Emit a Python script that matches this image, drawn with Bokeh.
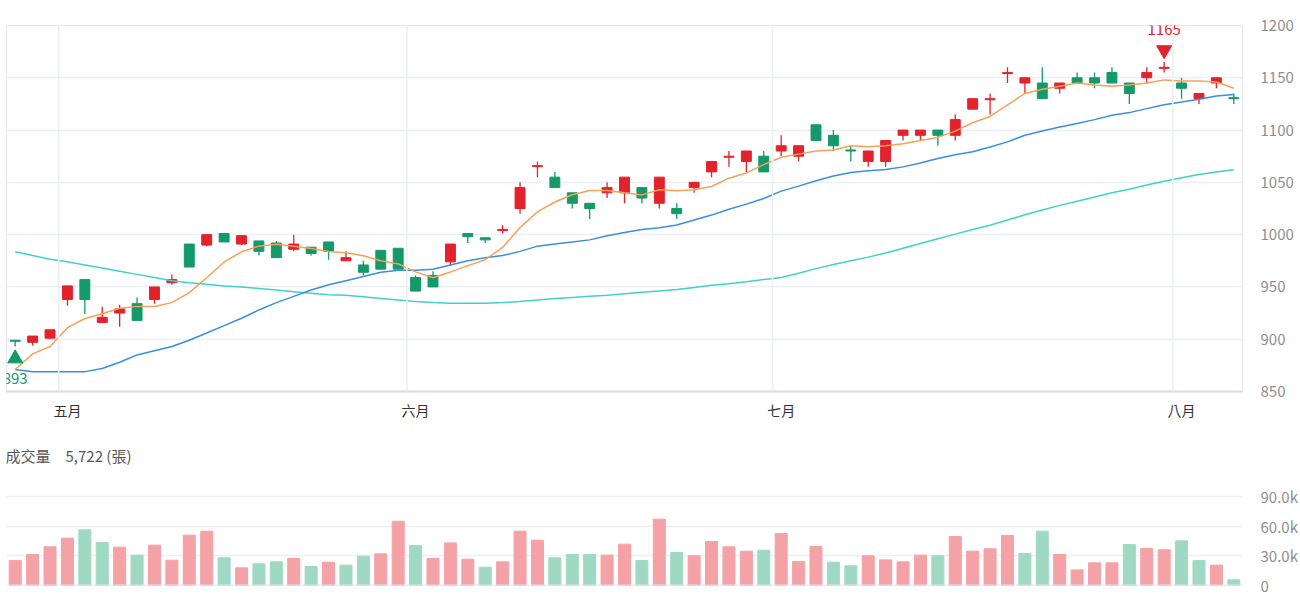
from bokeh.plotting import figure
from bokeh.layouts import column
from bokeh.models import Range1d, FixedTicker, ColumnDataSource, Span, Label
from bokeh.embed import file_html
from bokeh.resources import INLINE

# Trading days, 2025-04-28 .. 2025-08-06
dates = [
    "2025-04-28", "2025-04-29", "2025-04-30",
    "2025-05-02", "2025-05-05", "2025-05-06", "2025-05-07", "2025-05-08", "2025-05-09",
    "2025-05-12", "2025-05-13", "2025-05-14", "2025-05-15", "2025-05-16",
    "2025-05-19", "2025-05-20", "2025-05-21", "2025-05-22", "2025-05-23",
    "2025-05-26", "2025-05-27", "2025-05-28", "2025-05-29",
    "2025-06-02", "2025-06-03", "2025-06-04", "2025-06-05", "2025-06-06",
    "2025-06-09", "2025-06-10", "2025-06-11", "2025-06-12", "2025-06-13",
    "2025-06-16", "2025-06-17", "2025-06-18", "2025-06-19", "2025-06-20",
    "2025-06-23", "2025-06-24", "2025-06-25", "2025-06-26", "2025-06-27",
    "2025-06-30",
    "2025-07-01", "2025-07-02", "2025-07-03", "2025-07-04",
    "2025-07-07", "2025-07-08", "2025-07-09", "2025-07-10", "2025-07-11",
    "2025-07-14", "2025-07-15", "2025-07-16", "2025-07-17", "2025-07-18",
    "2025-07-21", "2025-07-22", "2025-07-23", "2025-07-24", "2025-07-25",
    "2025-07-28", "2025-07-29", "2025-07-30", "2025-07-31",
    "2025-08-01", "2025-08-04", "2025-08-05", "2025-08-06",
]

opens = [899, 897, 901, 938, 957, 916, 925, 934, 938, 954,
         991, 990, 1001, 991, 994, 992, 986, 988, 993, 975,
         971, 985, 987, 959, 961, 974, 1001, 997, 1004, 1025,
         1065, 1055, 1040, 1030, 1040, 1040, 1045, 1030, 1025, 1045,
         1060, 1074, 1070, 1075, 1080, 1075, 1105, 1095, 1081, 1070,
         1070, 1095, 1095, 1100, 1095, 1120, 1129, 1154, 1145, 1145,
         1140, 1150, 1150, 1155, 1145, 1150, 1159, 1145, 1130, 1145,
         1131]
highs = [899, 903, 909, 951, 957, 931, 933, 940, 950, 962,
         991, 1000, 1001, 999, 994, 994, 1000, 988, 993, 984,
         975, 985, 987, 961, 965, 991, 1001, 997, 1009, 1050,
         1070, 1060, 1040, 1030, 1050, 1055, 1045, 1055, 1030, 1050,
         1070, 1080, 1080, 1080, 1095, 1085, 1105, 1100, 1085, 1080,
         1090, 1100, 1100, 1100, 1115, 1130, 1135, 1160, 1150, 1160,
         1145, 1155, 1155, 1160, 1145, 1160, 1165, 1150, 1135, 1150,
         1135]
lows = [893, 894, 900, 932, 924, 916, 912, 918, 934, 952,
        969, 989, 993, 990, 980, 978, 984, 980, 976, 975,
        961, 967, 967, 946, 950, 970, 992, 992, 1001, 1020,
        1055, 1045, 1025, 1015, 1035, 1030, 1030, 1025, 1015, 1040,
        1055, 1065, 1060, 1060, 1075, 1070, 1090, 1080, 1070, 1065,
        1065, 1090, 1090, 1085, 1090, 1120, 1115, 1145, 1135, 1130,
        1135, 1145, 1140, 1145, 1125, 1145, 1155, 1130, 1125, 1140,
        1125]
closes = [898, 903, 909, 951, 938, 921, 929, 918, 950, 957,
          969, 1000, 993, 999, 984, 978, 991, 982, 984, 978,
          964, 967, 967, 946, 950, 991, 998, 995, 1005, 1045,
          1066, 1045, 1030, 1025, 1045, 1055, 1035, 1055, 1020, 1050,
          1070, 1075, 1080, 1060, 1085, 1085, 1090, 1085, 1080, 1080,
          1090, 1100, 1100, 1095, 1110, 1130, 1130, 1155, 1150, 1130,
          1145, 1145, 1145, 1145, 1135, 1155, 1160, 1140, 1135, 1150,
          1130]
volumes = [25300, 31300, 39100, 47900, 56300, 43500, 38800, 30700, 40800, 25600,
           50900, 54900, 28000, 17900, 21900, 23900, 27300, 19200, 23600, 20600,
           29700, 32000, 65000, 40400, 27300, 43100, 26600, 18500, 23900, 54900,
           45800, 28000, 31300, 31300, 30700, 41800, 25300, 67100, 33400, 30000,
           44500, 39100, 34700, 35700, 52600, 24300, 39400, 23600, 19900, 30000,
           25900, 23900, 30700, 30000, 49500, 34700, 37100, 50600, 32400, 54900,
           31300, 15800, 22900, 22900, 41500, 37400, 36100, 45200, 25300, 20600,
           5722]

# moving averages (5, 20 and 60 day)
ma5 = [871, 886, 893, 911, 919.8, 924.4, 929.6, 931.4, 931.2, 935.0,
       944.6, 958.8, 973.8, 983.6, 989.0, 990.8, 989.0, 986.8, 983.8, 982.6,
       979.8, 975.0, 972.0, 964.4, 958.8, 964.2, 970.4, 976.0, 987.8, 1006.8,
       1021.8, 1031.2, 1038.2, 1042.2, 1042.2, 1040.0, 1038.0, 1043.0, 1042.0, 1043.0,
       1046.0, 1054.0, 1059.0, 1067.0, 1074.0, 1077.0, 1080.0, 1081.0, 1085.0, 1084.0,
       1085.0, 1087.0, 1090.0, 1093.0, 1099.0, 1107.0, 1113.0, 1124.0, 1135.0, 1139.0,
       1142.0, 1145.0, 1143.0, 1142.0, 1143.0, 1145.0, 1148.0, 1147.0, 1147.0, 1146.0,
       1140.0]
ma20 = [871, 869, 869, 869, 869, 872, 878, 885, 889, 893,
        899, 906, 913, 920, 928, 935, 941, 947, 952, 956,
        960, 964, 966, 966, 967, 971, 975, 978, 980, 984,
        989, 991, 993, 995, 999, 1002, 1005, 1006.6, 1009.2, 1014,
        1018.7, 1024.2, 1029.2, 1034.6, 1041.6, 1046.4, 1051.5, 1056, 1059.5, 1061,
        1062.4, 1064.8, 1068.6, 1072.8, 1076.5, 1079.2, 1083.9, 1088.7, 1095.1, 1099.2,
        1103, 1106.2, 1110, 1114.1, 1116.7, 1120.5, 1124.3, 1126.8, 1129.4, 1132.6,
        1133.9]
ma60 = [983.7, 980, 976.5, 974, 971, 968, 965, 962, 959, 956,
        954, 952.5, 951, 950, 948.5, 947, 945.5, 944, 942.5, 942,
        940.5, 939, 937.5, 936, 935, 934.5, 934.5, 934.5, 935, 936,
        937.5, 939, 940, 941, 942, 943.5, 945, 946, 947.5, 949.5,
        951.5, 953, 955, 957, 959, 963, 967.5, 971.5, 975, 978.5,
        982.5, 987, 991.5, 996, 1000.5, 1005, 1009, 1014, 1019, 1023.5,
        1028, 1032, 1036, 1040, 1043.5, 1047.5, 1051, 1054.5, 1057.5, 1060,
        1062]

month_names = {5: "五月", 6: "六月", 7: "七月", 8: "八月"}
price_ticks = [850, 900, 950, 1000, 1050, 1100, 1150, 1200]
volume_ticks = [0, 30000, 60000, 90000]
volume_tick_labels = {0: "0", 30000: "30.0k", 60000: "60.0k", 90000: "90.0k"}

UP, DOWN = "#e3222c", "#14996a"
UP_VOL, DOWN_VOL = "#f4a2a6", "#9fd9c3"
GRID = "#eceff6"
FONT = "Noto Sans CJK TC"

n = len(dates)
xs = list(range(n))

candle_colors = []
vol_colors = []
for i in range(n):
    if closes[i] > opens[i]:
        candle_colors.append(UP)
    elif closes[i] < opens[i]:
        candle_colors.append(DOWN)
    else:
        candle_colors.append(UP if i == 0 or closes[i] >= closes[i - 1] else DOWN)
    vol_colors.append(UP_VOL if i == 0 or closes[i] >= closes[i - 1] else DOWN_VOL)

src = ColumnDataSource(dict(
    x=xs, open=opens, high=highs, low=lows, close=closes,
    top=[max(o, c) for o, c in zip(opens, closes)],
    bottom=[min(o, c) for o, c in zip(opens, closes)],
    color=candle_colors, volume=volumes, vcolor=vol_colors,
    ma5=ma5, ma20=ma20, ma60=ma60,
))

# month boundaries: first trading day of each month
month_starts = [i for i in range(1, n) if dates[i][5:7] != dates[i - 1][5:7]]

# ---------------- price panel ----------------
p = figure(width=1300, height=430,
           x_range=Range1d(-0.5, n - 0.5), y_range=Range1d(850, 1200),
           output_backend="svg", toolbar_location=None, y_axis_location="right",
           min_border_left=6, min_border_right=54, min_border_top=25, min_border_bottom=39)
p.outline_line_color = "#e4e7ee"
p.background_fill_color = "white"
p.border_fill_color = "white"

p.yaxis.ticker = FixedTicker(ticks=price_ticks)
p.yaxis.axis_line_color = None
p.yaxis.major_tick_line_color = None
p.yaxis.minor_tick_line_color = None
p.yaxis.major_label_standoff = 12
p.yaxis.major_label_text_font = FONT
p.yaxis.major_label_text_font_size = "15px"
p.yaxis.major_label_text_color = "#8e8e8e"

p.xaxis.ticker = FixedTicker(ticks=month_starts)
p.xaxis.major_label_overrides = {i: month_names[int(dates[i][5:7])] for i in month_starts}
p.xaxis.axis_line_color = "#d8dce4"
p.xaxis.axis_line_width = 2
p.xaxis.major_tick_line_color = None
p.xaxis.minor_tick_line_color = None
p.xaxis.major_label_standoff = 2
p.xaxis.major_label_text_font = FONT
p.xaxis.major_label_text_font_size = "14px"
p.xaxis.major_label_text_color = "#333333"

p.xgrid.visible = False
p.ygrid.grid_line_color = GRID
p.ygrid.grid_line_width = 1.5
for m in month_starts:
    p.add_layout(Span(location=m - 0.5, dimension="height", line_color=GRID, line_width=1.5))

p.segment(x0="x", y0="low", x1="x", y1="high", color="color", line_width=1.3, source=src)
p.vbar(x="x", width=0.57, top="top", bottom="bottom", fill_color="color",
       line_color="color", line_width=1, source=src)

p.line("x", "ma60", source=src, color="#3fd1cd", line_width=1.5)
p.line("x", "ma20", source=src, color="#3a8ee0", line_width=1.5)
p.line("x", "ma5", source=src, color="#f6a15a", line_width=1.5)

# highest high / lowest low markers
px_per_unit = 366 / 350.0
hi_i = max(range(n), key=lambda i: highs[i])
lo_i = min(range(n), key=lambda i: lows[i])
p.scatter([hi_i], [highs[hi_i] + 12 / px_per_unit], marker="inverted_triangle",
          size=15, color=UP)
p.add_layout(Label(x=hi_i, y=highs[hi_i] + 33 / px_per_unit, text=f"{highs[hi_i]}",
                   text_align="center", text_baseline="middle", text_color=UP,
                   text_font=FONT, text_font_size="15px"))
p.scatter([lo_i], [lows[lo_i] - 12 / px_per_unit], marker="triangle",
          size=15, color=DOWN)
p.add_layout(Label(x=lo_i, y=lows[lo_i] - 32 / px_per_unit, text=f"{lows[lo_i]}",
                   text_align="center", text_baseline="middle", text_color=DOWN,
                   text_font=FONT, text_font_size="15px"))

# ---------------- volume panel ----------------
# frame spans 145 px; the 0..90k scale takes the lower 89 px of it,
# leaving room above for the caption
units_per_px = 90000 / 89.0
v = figure(width=1300, height=170,
           x_range=p.x_range, y_range=Range1d(0, 145 * units_per_px),
           output_backend="svg", toolbar_location=None, y_axis_location="right",
           min_border_left=6, min_border_right=54, min_border_top=10, min_border_bottom=15)
v.outline_line_color = None
v.xaxis.visible = False
v.xgrid.visible = False
v.ygrid.grid_line_color = GRID
v.ygrid.grid_line_width = 1.5
v.yaxis.ticker = FixedTicker(ticks=volume_ticks)
v.yaxis.major_label_overrides = volume_tick_labels
v.yaxis.axis_line_color = None
v.yaxis.major_tick_line_color = None
v.yaxis.minor_tick_line_color = None
v.yaxis.major_label_standoff = 12
v.yaxis.major_label_text_font = FONT
v.yaxis.major_label_text_font_size = "15px"
v.yaxis.major_label_text_color = "#8e8e8e"
v.add_layout(Span(location=0, dimension="width", line_color="#dde1e8", line_width=2))

v.vbar(x="x", width=0.69, top="volume", bottom=0, fill_color="vcolor",
       line_color="vcolor", source=src)

v.add_layout(Label(x=-0.5, y=volume_ticks[-1] + 41 * units_per_px, x_offset=-1,
                   text=f"成交量\u2003{volumes[-1]:,} (張)",
                   text_align="left", text_baseline="middle", text_color="#555555",
                   text_font=FONT, text_font_size="15px"))

layout = column(p, v)
open("out.html", "w").write(file_html(layout, INLINE))
